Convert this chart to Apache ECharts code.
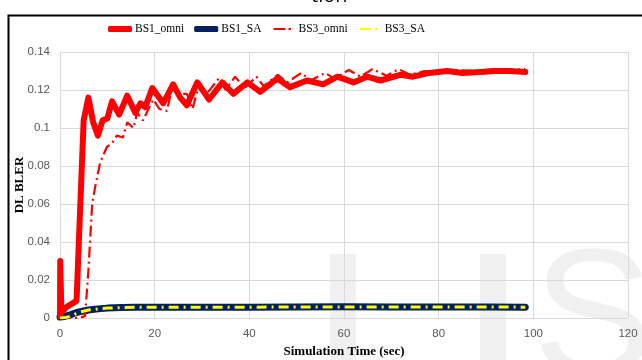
<!DOCTYPE html>
<html>
<head>
<meta charset="utf-8">
<script src="https://cdn.jsdelivr.net/npm/echarts@6/dist/echarts.min.js"></script>
<style>
  html, body { margin: 0; padding: 0; background: #ffffff; }
  #chart { width: 642px; height: 360px; }
</style>
</head>
<body>
<div id="chart"></div>
<script>
// Downlink BLER over simulation time for two base stations, omni vs. SA antennas
const seriesNames = ['BS1_omni', 'BS1_SA', 'BS3_omni', 'BS3_SA'];
const xTicks = [0, 20, 40, 60, 80, 100, 120];
const yTicks = [0, 0.02, 0.04, 0.06, 0.08, 0.1, 0.12, 0.14];

// [time (sec), DL BLER]
const bs1Omni = [
  [0, 0.001], [0.05, 0.030], [0.3, 0.003], [1.5, 0.006], [3.5, 0.009],
  [4.3, 0.060], [5, 0.104], [6, 0.116], [7, 0.103], [8, 0.096], [9, 0.104],
  [10, 0.105], [11, 0.114], [12.5, 0.107], [14.2, 0.117], [15.9, 0.108],
  [17, 0.113], [18, 0.111], [19.5, 0.121], [21.8, 0.113], [23.9, 0.123],
  [25.4, 0.116], [26.8, 0.112], [29, 0.124], [31.5, 0.115], [34.3, 0.124],
  [36.6, 0.118], [39.6, 0.124], [42.3, 0.119], [45.9, 0.126], [48.6, 0.1215],
  [52.2, 0.125], [55.6, 0.123], [58.6, 0.127], [62, 0.124], [64.9, 0.127],
  [67.7, 0.125], [71.9, 0.128], [74.6, 0.127], [78, 0.129], [81.8, 0.130],
  [85, 0.129], [88.8, 0.1295], [92, 0.130], [95, 0.130], [98.3, 0.1295]
];
const bs1SA = [
  [0, 0.0005], [1, 0.0008], [2, 0.0015], [3, 0.0025], [4, 0.0032], [5, 0.0037],
  [6, 0.0042], [8, 0.0048], [10, 0.0052], [13, 0.0055], [16, 0.0056],
  [20, 0.0057], [30, 0.0057], [40, 0.0057], [50, 0.0058], [60, 0.0059],
  [70, 0.0058], [80, 0.0058], [90, 0.0058], [98.3, 0.0057]
];
const bs3Omni = [
  [0, 0.0], [2, 0.0], [4, 0.0], [5.3, 0.001], [6, 0.025], [6.8, 0.060],
  [7.5, 0.070], [8.5, 0.082], [9.9, 0.090], [11, 0.092], [12, 0.096],
  [13.3, 0.095], [14.2, 0.103], [15.5, 0.100], [16.3, 0.108], [17.5, 0.104],
  [19.7, 0.115], [21, 0.110], [22.6, 0.109], [23.9, 0.124], [25, 0.118],
  [26.8, 0.118], [28, 0.110], [29.5, 0.124], [31, 0.118], [33.5, 0.126],
  [35, 0.120], [37, 0.127], [39, 0.121], [41.5, 0.127], [43, 0.122],
  [46, 0.128], [48, 0.124], [51, 0.129], [53, 0.125], [56, 0.129],
  [58, 0.126], [61, 0.1305], [63.5, 0.127], [66, 0.131], [69, 0.1275],
  [71.5, 0.131], [74, 0.128], [77, 0.130], [80, 0.1295], [84, 0.1305],
  [88, 0.130], [92, 0.131], [95, 0.1305], [98.3, 0.131]
];
const bs3SA = [
  [0, 0.0], [1, 0.0002], [2, 0.0008], [3, 0.0018], [4, 0.0028], [5, 0.0036],
  [6, 0.0042], [8, 0.0048], [10, 0.0052], [13, 0.0055], [16, 0.0056],
  [20, 0.0057], [30, 0.0057], [40, 0.0057], [50, 0.0058], [60, 0.0058],
  [70, 0.0058], [80, 0.0058], [90, 0.0058], [98.3, 0.0057]
];

const RED = '#ff0000';
const NAVY = '#002060';
const YELLOW = '#ffff00';
const serif = 'Liberation Serif';
const sans = 'Liberation Sans';
const markFill = '#f0f0f0';

// legend glyphs: a solid bar for the thick lines, dash + dot for the thin ones
const barIcon = 'roundRect';
const dashDotIcon = 'path://M0,0M24,6M2,2h12v2h-12zM17,2h2.5v2h-2.5z';

const chart = echarts.init(document.getElementById('chart'), null, { renderer: 'canvas' });

function watermark(left, top, text, weight) {
  return {
    type: 'text', left: left, top: top, z: -10, silent: true,
    style: { text: text, fontFamily: 'Liberation Sans', fontSize: 180, fontWeight: weight, fill: markFill }
  };
}

chart.setOption({
  backgroundColor: '#ffffff',
  animation: false,
  graphic: [
    // cut-off caption line above the figure
    { type: 'text', left: 311, top: -14, z: 0,
      style: { text: 'tion', fontFamily: 'Open Sans', fontSize: 20, fill: '#000' } },
    // faint watermark letters
    watermark(318, 238, 'I', 'bold'),
    watermark(468, 238, 'I', 'bold'),
    watermark(533, 234, 'S', 'normal'),
    // figure frame
    { type: 'rect', left: 6, top: 13, z: 100, silent: true,
      shape: { width: 700, height: 400 },
      style: { fill: 'none', stroke: '#000', lineWidth: 2 } }
  ],
  legend: {
    top: 18,
    left: 103,
    itemWidth: 24,
    itemHeight: 6,
    itemGap: 10,
    textStyle: { fontFamily: serif, fontSize: 11.5, color: '#000', padding: [0, 0, 0, -2] },
    data: [
      { name: seriesNames[0], icon: barIcon, itemStyle: { color: RED } },
      { name: seriesNames[1], icon: barIcon, itemStyle: { color: NAVY } },
      { name: seriesNames[2], icon: dashDotIcon, itemStyle: { color: RED } },
      { name: seriesNames[3], icon: dashDotIcon, itemStyle: { color: YELLOW } }
    ]
  },
  grid: { left: 60, right: 14, top: 52, bottom: 42, containLabel: false, outerBoundsMode: 'none' },
  xAxis: {
    type: 'value',
    min: xTicks[0],
    max: xTicks[xTicks.length - 1],
    interval: xTicks[1] - xTicks[0],
    name: 'Simulation Time (sec)',
    nameLocation: 'middle',
    nameGap: 27,
    nameMoveOverlap: false,
    nameTextStyle: { fontFamily: serif, fontSize: 13, fontWeight: 'bold', color: '#000' },
    axisLine: { show: true, lineStyle: { color: '#d9d9d9', width: 1 } },
    axisTick: { show: false },
    axisLabel: { fontFamily: sans, fontSize: 11.5, color: '#595959', margin: 10 },
    splitLine: { show: true, lineStyle: { color: '#d9d9d9', width: 1 } }
  },
  yAxis: {
    type: 'value',
    min: yTicks[0],
    max: yTicks[yTicks.length - 1],
    interval: 0.02,
    name: 'DL BLER',
    nameLocation: 'middle',
    nameGap: 34,
    nameMoveOverlap: false,
    nameRotate: 90,
    nameTextStyle: { fontFamily: serif, fontSize: 13, fontWeight: 'bold', color: '#000' },
    axisLine: { show: true, lineStyle: { color: '#d9d9d9', width: 1 } },
    axisTick: { show: false },
    axisLabel: {
      fontFamily: sans, fontSize: 11.5, color: '#595959', margin: 10,
      formatter: v => String(Math.round(v * 100) / 100)
    },
    splitLine: { show: true, lineStyle: { color: '#d9d9d9', width: 1 } }
  },
  series: [
    {
      name: 'BS1_omni', type: 'line', data: bs1Omni, symbol: 'none', z: 3,
      itemStyle: { color: RED },
      lineStyle: { color: RED, width: 6, join: 'round', cap: 'round' }
    },
    {
      name: 'BS1_SA', type: 'line', data: bs1SA, symbol: 'none', z: 2,
      itemStyle: { color: NAVY },
      lineStyle: { color: NAVY, width: 7, join: 'round', cap: 'round' }
    },
    {
      name: 'BS3_omni', type: 'line', data: bs3Omni, symbol: 'none', z: 4,
      itemStyle: { color: RED },
      lineStyle: { color: RED, width: 2.2, type: [11, 4, 2, 4] }
    },
    {
      name: 'BS3_SA', type: 'line', data: bs3SA, symbol: 'none', z: 5,
      itemStyle: { color: YELLOW },
      lineStyle: { color: YELLOW, width: 3, type: [10, 5, 2, 5] }
    }
  ]
});
</script>
</body>
</html>
